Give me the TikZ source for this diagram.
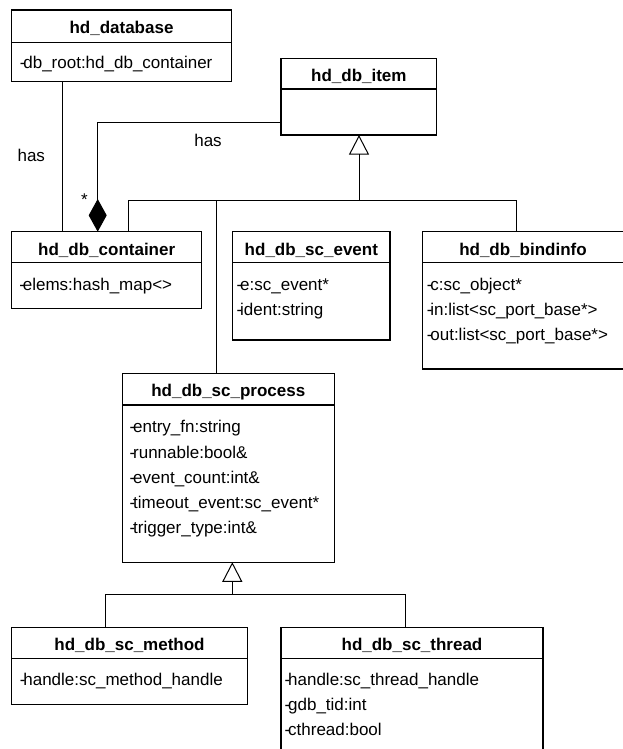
\documentclass[tikz,border=0pt]{standalone}
\usepackage{fontspec}
\setmainfont{Liberation Sans}
\usetikzlibrary{arrows.meta}
\tikzset{
  classbox/.style={draw, line width=1.2pt, inner sep=0pt, outer sep=0pt, anchor=north west},
  sepline/.style={line width=1.2pt},
  ctitle/.style={font=\fontsize{17}{20}\selectfont\bfseries, inner sep=0pt, anchor=base},
  attr/.style={font=\fontsize{17}{20}\selectfont, inner sep=0pt, anchor=base west},
  lbl/.style={font=\fontsize{17}{20}\selectfont, inner sep=0pt},
  conn/.style={line width=1pt},
  gen/.style={conn, -{Triangle[open, length=19.6pt, width=20pt]}},
  comp/.style={conn, -{Diamond[length=32.7pt, width=18pt]}},
}
\newcommand{\vis}{-\kern-2.2pt}
\newcommand{\umlclass}[7]{%
  \node[classbox, minimum width={(#4-#2)*1pt}, minimum height={(#5-#3)*1pt}] (#1) at (#2,#3) {};
  \draw[sepline] (#2,#6) -- (#4,#6);
  \node[ctitle] (#1-title) at ({(#2+#4)/2},{#3+23.3}) {#7};
}
\begin{document}
\begin{tikzpicture}[x=1pt,y=-1pt]
\useasboundingbox (0,0) rectangle (623,749);
\clip (0,0) rectangle (623,749);

% classes
\umlclass{db}{11.7}{10}{231.3}{81.7}{42.3}{hd\_database}
\node[attr] (db-a1) at (19.7,68.3) {\vis db\_root:hd\_db\_container};

\umlclass{item}{281}{58.3}{436.7}{135}{89}{hd\_db\_item}

\umlclass{cont}{11.7}{231.7}{201.7}{308.3}{262.7}{hd\_db\_container}
\node[attr] (cont-a1) at (19.2,290.3) {\vis elems:hash\_map<>};

\umlclass{ev}{232.7}{231.7}{390}{340}{262.7}{hd\_db\_sc\_event}
\node[attr] (ev-a1) at (236.5,290.3) {\vis e:sc\_event*};
\node[attr] (ev-a2) at (236.5,315.6) {\vis ident:string};

\umlclass{bind}{422.7}{231.7}{623.3}{369}{262.5}{hd\_db\_bindinfo}
\node[attr] (bind-a1) at (426.7,290.3) {\vis c:sc\_object*};
\node[attr] (bind-a2) at (426.7,315.6) {\vis in:list<sc\_port\_base*>};
\node[attr] (bind-a3) at (426.7,340.9) {\vis out:list<sc\_port\_base*>};

\umlclass{proc}{122.3}{373.5}{334.3}{562.2}{405}{hd\_db\_sc\_process}
\node[attr] (proc-a1) at (129.5,432.7) {\vis entry\_fn:string};
\node[attr] (proc-a2) at (129.5,458.0) {\vis runnable:bool\&};
\node[attr] (proc-a3) at (129.5,483.3) {\vis event\_count:int\&};
\node[attr] (proc-a4) at (129.5,508.6) {\vis timeout\_event:sc\_event*};
\node[attr] (proc-a5) at (129.5,533.9) {\vis trigger\_type:int\&};

\umlclass{meth}{11.7}{627.3}{247.3}{704.3}{658.3}{hd\_db\_sc\_method}
\node[attr] (meth-a1) at (19.7,685.3) {\vis handle:sc\_method\_handle};

\umlclass{thr}{281}{627.5}{543}{760}{658.3}{hd\_db\_sc\_thread}
\node[attr] (thr-a1) at (284.5,685.3) {\vis handle:sc\_thread\_handle};
\node[attr] (thr-a2) at (284.5,710.6) {\vis gdb\_tid:int};
\node[attr] (thr-a3) at (284.5,735.9) {\vis cthread:bool};

% hd_database has hd_db_container
\coordinate (dbc) at (62.3,0);
\draw[conn] (db.south -| dbc) -- (cont.north -| dbc);
\node[lbl] (has1) at (31.3,155.7) {has};

% composition hd_db_item -> hd_db_container
\coordinate (cA) at (97.7,122.7);
\draw[comp] (item.west |- cA) -| (cont.north -| cA);
\node[lbl] (has2) at (208,140) {has};
\node[lbl, anchor=base] (mult) at (84.5,205.5) {*};

% generalization to hd_db_item
\coordinate (g1) at (359,200);
\coordinate (h1L) at (128,200);
\coordinate (h1P) at (216.7,200);
\coordinate (h1R) at (516.7,200);
\draw[gen] (g1) -- (item.south -| g1);
\draw[conn] (cont.north -| h1L) -- (h1L) -- (h1R) -- (bind.north -| h1R);
\draw[conn] (h1P) -- (proc.north -| h1P);

% generalization to hd_db_sc_process
\coordinate (g2) at (232.3,594.7);
\coordinate (h2L) at (105.7,594.7);
\coordinate (h2R) at (405.7,594.7);
\draw[gen] (g2) -- (proc.south -| g2);
\draw[conn] (meth.north -| h2L) -- (h2L) -- (h2R) -- (thr.north -| h2R);
\end{tikzpicture}
\end{document}
